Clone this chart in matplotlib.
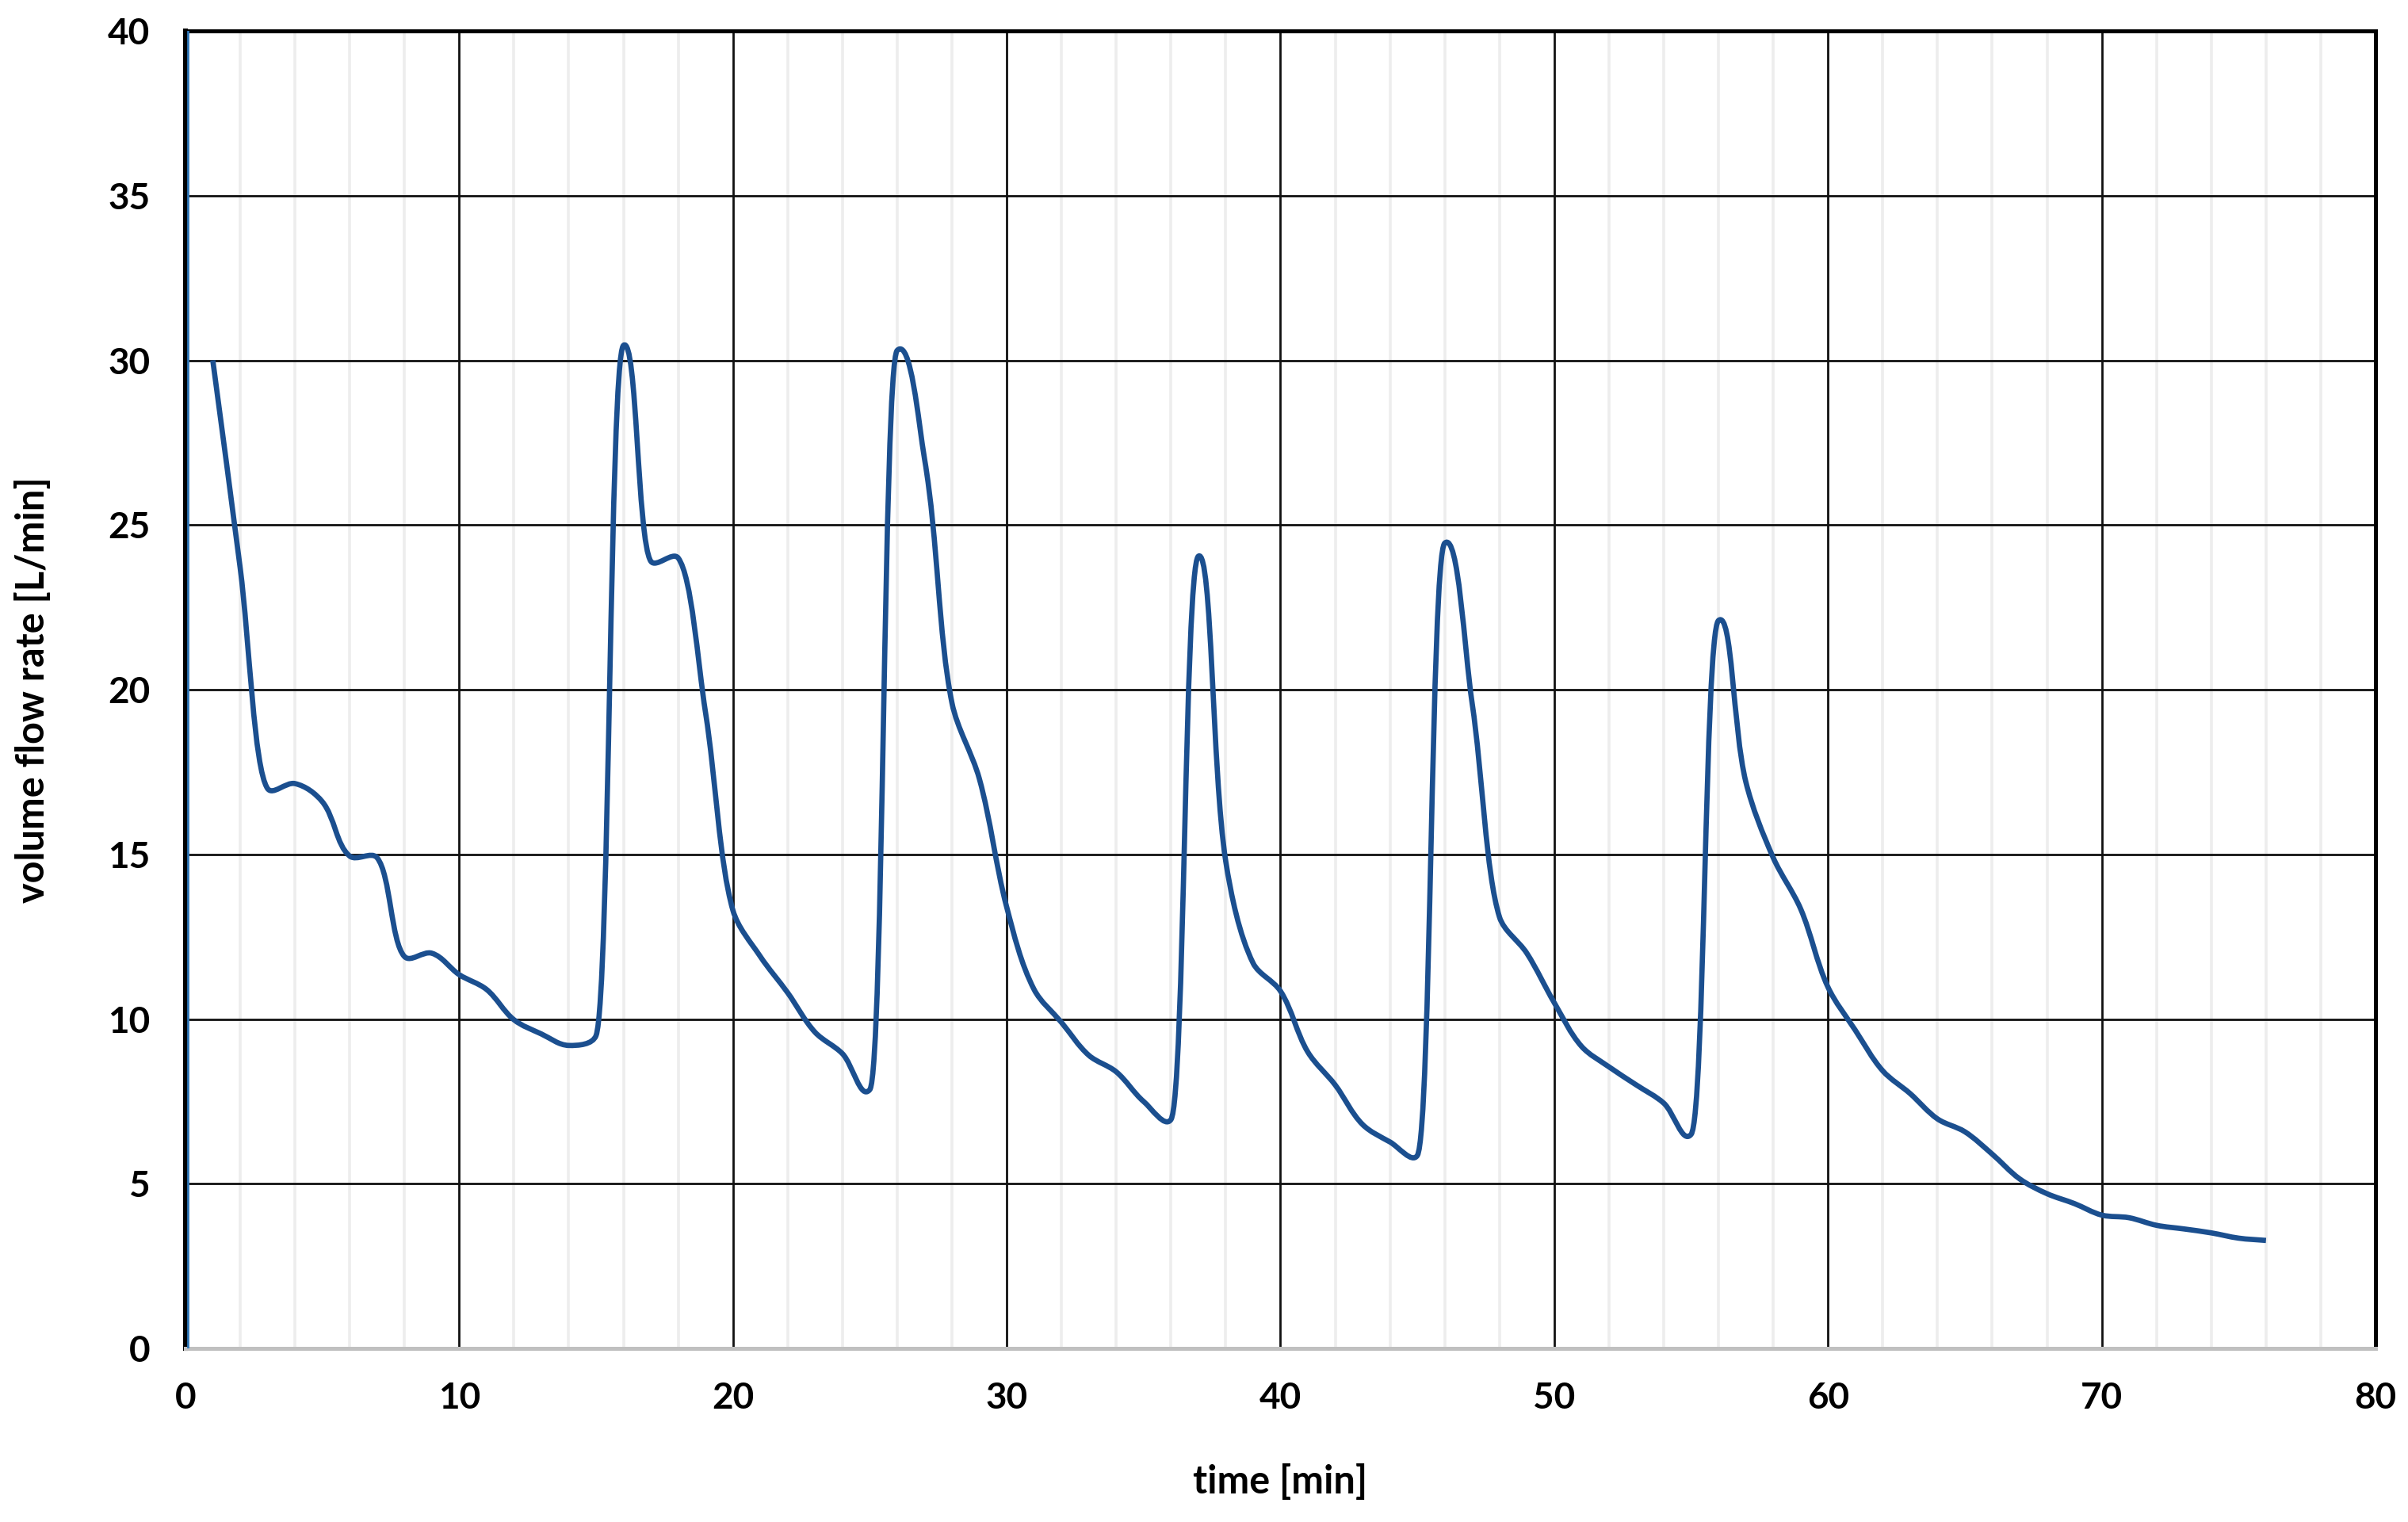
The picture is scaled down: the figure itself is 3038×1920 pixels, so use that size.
import numpy as np
import matplotlib.pyplot as plt
from matplotlib.path import Path
from matplotlib.patches import PathPatch

plt.rcParams['font.family'] = ['Lato', 'DejaVu Sans']
plt.rcParams['font.weight'] = 'bold'

# data (one point per minute)
time_min = list(range(1, 77))
flow = [30.0, 23.7, 17.0, 17.15, 16.6, 14.95, 14.9, 11.9, 12.0, 11.35,
        10.9, 9.98, 9.55, 9.2, 9.5, 30.45, 23.9, 24.0, 19.3, 13.3,
        11.9, 10.8, 9.6, 8.95, 7.86, 30.3, 27.0, 19.6, 17.3, 13.4,
        10.9, 9.9, 8.9, 8.4, 7.5, 6.95, 24.05, 14.8, 11.7, 10.85,
        9.0, 8.0, 6.8, 6.27, 5.86, 24.45, 19.6, 13.1, 12.0, 10.5,
        9.17, 8.55, 8.0, 7.45, 6.5, 22.1, 17.2, 14.9, 13.35, 10.97,
        9.66, 8.43, 7.74, 6.97, 6.58, 5.9, 5.15, 4.7, 4.4, 4.05,
        3.97, 3.74, 3.63, 3.51, 3.35, 3.28]

x_ticks = [0, 10, 20, 30, 40, 50, 60, 70, 80]
y_ticks = [0, 5, 10, 15, 20, 25, 30, 35, 40]


def unit(v):
    return v / np.hypot(*v)


def smooth_path(ax, xs, ys):
    # smoothed line like excel: tangent mixes segment bisector and chord,
    # handles a third of the segment, kept from running back in x
    p = np.column_stack([xs, ys]).astype(float)
    q = ax.transData.transform(p)
    n = len(q)
    seg = np.diff(q, axis=0)
    d = np.hypot(seg[:, 0], seg[:, 1])
    u = seg / d[:, None]
    t = np.zeros_like(q)
    t[0], t[-1] = u[0], u[-1]
    for i in range(1, n - 1):
        t[i] = unit(unit(u[i - 1] + u[i]) + unit(q[i + 1] - q[i - 1]))
    verts = [q[0]]
    codes = [Path.MOVETO]
    for i in range(n - 1):
        dx = seg[i, 0]
        h1 = d[i] / 3.0
        if t[i, 0] * h1 > 0.5 * dx:
            h1 = 0.5 * dx / t[i, 0]
        h2 = d[i] / 3.0
        if t[i + 1, 0] * h2 > 0.5 * dx:
            h2 = 0.5 * dx / t[i + 1, 0]
        verts += [q[i] + h1 * t[i], q[i + 1] - h2 * t[i + 1], q[i + 1]]
        codes += [Path.CURVE4] * 3
    verts = ax.transData.inverted().transform(np.array(verts))
    return Path(verts, codes)


fig = plt.figure(figsize=(15.19, 9.6), dpi=200)
ax = fig.add_axes([0.077, 0.114, 0.9095, 0.8657])

ax.set_xlim(0, 80)
ax.set_ylim(0, 40)
ax.set_xticks(x_ticks)
ax.set_yticks(y_ticks)
ax.set_xticks(np.arange(0, 81, 2), minor=True)

ax.grid(which='minor', axis='x', color='#ededed', lw=1.3, zorder=0)
ax.grid(which='major', axis='both', color='#111111', lw=1.0, zorder=1)
ax.set_axisbelow(True)

ax.add_patch(PathPatch(smooth_path(ax, time_min, flow), fill=False,
                       edgecolor='#1B4F8F', lw=2.4, zorder=3,
                       capstyle='butt', joinstyle='round'))

for s in ['top', 'right']:
    ax.spines[s].set_color('black')
    ax.spines[s].set_linewidth(1.8)
ax.spines['bottom'].set_color('#c0c0c0')
ax.spines['bottom'].set_linewidth(1.8)
ax.spines['left'].set_color('black')
ax.spines['left'].set_linewidth(2.2)
ax.axvline(0.08, color='#2E75B6', lw=1.0, zorder=4)

ax.tick_params(which='both', length=0)
ax.tick_params(axis='x', labelsize=16.5, pad=15)
ax.tick_params(axis='y', labelsize=16.5, pad=16)
for lab in ax.get_xticklabels() + ax.get_yticklabels():
    lab.set_fontweight('bold')

ax.set_xlabel('time [min]', fontsize=17.5, fontweight='bold', labelpad=22)
ax.set_ylabel('volume flow rate [L/min]', fontsize=17.5, fontweight='bold', labelpad=26)

fig.savefig('out.png', dpi=200)
